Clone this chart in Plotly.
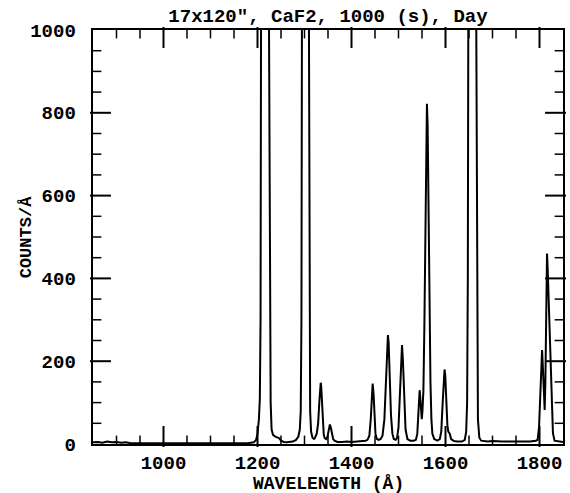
import plotly.graph_objects as go

# Spectrum trace: wavelength (Angstrom) and counts per Angstrom
wavelength = [
    850, 860, 870, 880, 890, 900, 910, 920, 930, 950, 1000, 1050, 1100, 1150, 1180, 1192,
    1197, 1200, 1203, 1205, 1206.5, 1207.5, 1209, 1216, 1223, 1224.5, 1226, 1228, 1230,
    1233, 1238, 1243, 1246, 1250, 1256, 1262, 1268, 1275, 1282, 1287, 1290, 1292, 1293.5,
    1294.5, 1296, 1302, 1308, 1309.5, 1310.5, 1312, 1314, 1317, 1320,
    1322, 1326, 1329, 1331.5, 1333.5, 1334.5, 1335.5, 1337, 1339, 1341, 1343, 1346,
    1349, 1352, 1354, 1356, 1358, 1361, 1364, 1370, 1380, 1390, 1400, 1410, 1420, 1430,
    1434, 1438, 1441, 1443, 1445, 1447, 1449, 1451, 1454, 1458, 1462,
    1466, 1470, 1473, 1475.5, 1477.5, 1479, 1481, 1484, 1487, 1490, 1494, 1497,
    1500, 1503, 1505.5, 1507.5, 1509.5, 1512, 1515, 1519, 1525, 1532, 1537,
    1540, 1542, 1544, 1545, 1546.5, 1548, 1549.5, 1551, 1553, 1555, 1557, 1559, 1560.5,
    1562, 1564, 1566, 1568, 1570, 1572, 1576, 1583, 1588,
    1591, 1594, 1596.5, 1598, 1599.5, 1602, 1604, 1606, 1609, 1612, 1618, 1625, 1635, 1641,
    1644, 1646, 1647.5, 1648.5, 1650, 1657, 1664, 1665.5, 1667, 1669, 1672, 1676, 1690,
    1700, 1720, 1740, 1760, 1780, 1792,
    1796, 1799, 1801, 1802.6, 1804, 1805.5, 1807, 1808.5, 1810, 1811, 1812.5, 1814, 1815,
    1816, 1817.5, 1820, 1821.8, 1823.5, 1825, 1827, 1828.6, 1832, 1840, 1850,
]
counts = [
    4, 5, 3, 6, 4, 5, 3, 4, 2, 2, 1, 1, 1, 2, 2, 4,
    10, 25, 60, 110, 300, 1000, 2500, 3500, 2500, 1000, 300, 100, 35,
    22, 18, 15, 14, 8, 5, 4, 5, 6, 10, 18, 35, 80, 300,
    1000, 2000, 2500, 2000, 1000, 300, 80, 30, 15, 12,
    14, 25, 50, 100, 140, 148, 140, 100, 50, 22, 14, 12,
    18, 35, 47, 40, 25, 12, 8, 5, 5, 6, 5, 6, 6, 8,
    10, 20, 60, 120, 146, 120, 60, 25, 12, 10, 12,
    20, 60, 150, 240, 263, 245, 160, 70, 25, 12, 10, 15,
    40, 110, 200, 239, 200, 100, 35, 12, 8, 8, 10,
    25, 70, 120, 130, 110, 70, 60, 80, 130, 280, 550, 760, 822,
    770, 550, 300, 150, 60, 25, 12, 8, 12,
    30, 100, 165, 180, 165, 90, 45, 30, 25, 12, 7, 6, 6, 10,
    30, 100, 400, 1000, 2500, 3000, 2500, 1000, 300, 60, 15, 8, 6,
    7, 6, 6, 6, 6, 8,
    10, 40, 100, 160, 200, 227, 190, 130, 95, 82, 150, 300, 420,
    460, 420, 330, 267, 180, 106, 50, 26, 8, 6, 5,
]

x_range = [850, 1850]
y_range = [0, 1000]
x_labels = [1000, 1200, 1400, 1600, 1800]
y_labels = [0, 200, 400, 600, 800, 1000]
x_minor = [v for v in range(900, 1850, 50) if v not in x_labels]
y_minor = [v for v in range(50, 1000, 50) if v not in y_labels]

title_text = '17x120", CaF2, 1000 (s), Day'
x_title = "WAVELENGTH (Å)"
y_title = "COUNTS/Å"

FONT = "Liberation Mono"
ink = "black"

W, H = 570, 493
M = dict(l=93, r=5, t=30, b=49)
plot_w = W - M["l"] - M["r"]
plot_h = H - M["t"] - M["b"]
MAJOR_LEN, MINOR_LEN = 15, 7   # tick lengths in pixels


def bold(s):
    return f"<b>{s}</b>"


fig = go.Figure()
fig.add_trace(go.Scatter(
    x=wavelength, y=counts, mode="lines",
    line=dict(color=ink, width=2),
    showlegend=False, hoverinfo="skip",
))

# inward tick marks on all four frame sides, drawn as line-shaped markers
for xv, yv, length, lw in ((x_labels, y_labels[1:-1], MAJOR_LEN, 2),
                           (x_minor, y_minor, MINOR_LEN, 1.5)):
    half_y = 0.5 * length * (y_range[1] - y_range[0]) / plot_h
    half_x = 0.5 * length * (x_range[1] - x_range[0]) / plot_w
    tick_x = list(xv) * 2
    tick_y = [y_range[0] + half_y] * len(xv) + [y_range[1] - half_y] * len(xv)
    fig.add_trace(go.Scatter(
        x=tick_x, y=tick_y, mode="markers", cliponaxis=False,
        marker=dict(symbol="line-ns", size=length, color=ink,
                    line=dict(color=ink, width=lw)),
        showlegend=False, hoverinfo="skip"))
    side_x = [x_range[0] + half_x] * len(yv) + [x_range[1] - half_x] * len(yv)
    fig.add_trace(go.Scatter(
        x=side_x, y=list(yv) * 2, mode="markers", cliponaxis=False,
        marker=dict(symbol="line-ew", size=length, color=ink,
                    line=dict(color=ink, width=lw)),
        showlegend=False, hoverinfo="skip"))

frame = dict(showline=True, linecolor=ink, linewidth=2, mirror=True,
             ticks="", showgrid=False, zeroline=False,
             tickfont=dict(family=FONT, size=19, color=ink))

fig.update_layout(
    width=W, height=H, margin=M,
    paper_bgcolor="white", plot_bgcolor="white",
    xaxis=dict(range=x_range, tickmode="array", tickvals=x_labels,
               ticktext=[bold(v) for v in x_labels], **frame),
    # trailing space keeps the value labels clear of the frame
    yaxis=dict(range=y_range, tickmode="array", tickvals=y_labels,
               ticktext=[bold(f"{v} ") for v in y_labels], **frame),
    title=dict(text=bold(title_text), x=0.5, xref="paper", y=1 - 15 / H,
               yref="container", xanchor="center", yanchor="middle",
               font=dict(family=FONT, size=19, color=ink)),
    annotations=[
        dict(text=bold(x_title), xref="paper", yref="paper", x=0.5, y=-40 / plot_h,
             xanchor="center", yanchor="middle", showarrow=False,
             font=dict(family=FONT, size=18, color=ink)),
        dict(text=bold(y_title), xref="paper", yref="paper", x=-67 / plot_w, y=0.5,
             xanchor="center", yanchor="middle", textangle=-90, showarrow=False,
             font=dict(family=FONT, size=17, color=ink)),
    ],
)

fig.write_html("out.html")
